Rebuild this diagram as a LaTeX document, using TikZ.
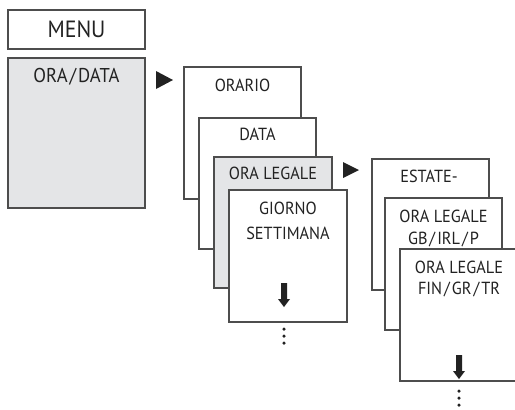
\documentclass[tikz,border=0pt]{standalone}
\usepackage{fontspec}
\setmainfont{PT Sans}[FakeStretch=0.93]
\definecolor{panel}{HTML}{E4E5E7}
\definecolor{edge}{HTML}{4D4D4D}
\definecolor{ink}{HTML}{222222}
\begin{document}
\begin{tikzpicture}[x=1pt,y=-1pt,
  panelbox/.style={draw=edge,line width=1.2pt,fill=white,inner sep=0pt,outer sep=0pt,anchor=north west},
  greybox/.style={panelbox,fill=panel},
  lbl/.style={inner sep=0pt,anchor=base,text=ink,font=\fontsize{17.5}{20}\selectfont},
  pointer/.style={fill=ink,draw=none},
  dotmark/.style={circle,fill=ink,draw=none,inner sep=0pt,minimum size=3.5pt}]
\useasboundingbox (0,0) rectangle (515,410);

% left column
\node[panelbox,minimum width=137pt,minimum height=39pt] (menu) at (8,10) {};
\node[greybox,minimum width=137pt,minimum height=150pt] (oradata) at (8,58) {};
\node[lbl,font=\fontsize{23.5}{26}\selectfont] (menut) at (76.5,37) {MENU};
\node[lbl,font=\fontsize{20}{22}\selectfont] (oradatat) at (76.5,82.5) {ORA\kern2pt/\kern2ptDATA};

% first stack
\node[panelbox,minimum width=117pt,minimum height=132pt] (orario) at (184,67) {};
\node[panelbox,minimum width=117pt,minimum height=131pt] (data) at (199,118) {};
\node[greybox,minimum width=118pt,minimum height=131pt] (legale) at (214,157) {};
\node[panelbox,minimum width=118pt,minimum height=132pt] (giorno) at (229,190) {};
\node[lbl] (orariot) at (242.5,91) {ORARIO};
\node[lbl] (datat) at (257.5,140) {DATA};
\node[lbl] (legalet) at (273,179) {ORA LEGALE};
\node[lbl] (giornot) at (288,214) {GIORNO};
\node[lbl] (settt) at (288,239) {SETTIMANA};

% second stack
\node[panelbox,minimum width=117pt,minimum height=131pt] (estate) at (372,159) {};
\node[panelbox,minimum width=117pt,minimum height=132pt] (gb) at (385,198) {};
\node[panelbox,minimum width=122pt,minimum height=132pt] (fin) at (400,249) {};
\node[lbl] (estatet) at (429,182) {ESTATE-};
\node[lbl] (gbt) at (443.5,222) {ORA LEGALE};
\node[lbl] (gbt2) at (443.5,244) {GB\kern2pt/\kern2ptIRL\kern2pt/\kern2ptP};
\node[lbl] (fint) at (459,273.5) {ORA LEGALE};
\node[lbl] (fint2) at (459,294.5) {FIN\kern2pt/\kern2ptGR\kern2pt/\kern2ptTR};

% right-pointing markers
\fill[pointer] (156,71) -- (173,80) -- (156,89) -- cycle;
\fill[pointer] (343,162) -- (359,170) -- (343,178) -- cycle;

% down arrows
\foreach \ax/\ay in {284/283, 459/355}{
  \fill[pointer] (\ax-3,\ay) -- (\ax+3,\ay) -- (\ax+3,\ay+16) -- (\ax+6,\ay+16)
    -- (\ax,\ay+24) -- (\ax-6,\ay+16) -- (\ax-3,\ay+16) -- cycle;
}
% continuation dots
\foreach \dy in {329,336,343} \node[dotmark] at (284,\dy) {};
\foreach \dy in {391,398,405} \node[dotmark] at (459,\dy) {};
\end{tikzpicture}
\end{document}
